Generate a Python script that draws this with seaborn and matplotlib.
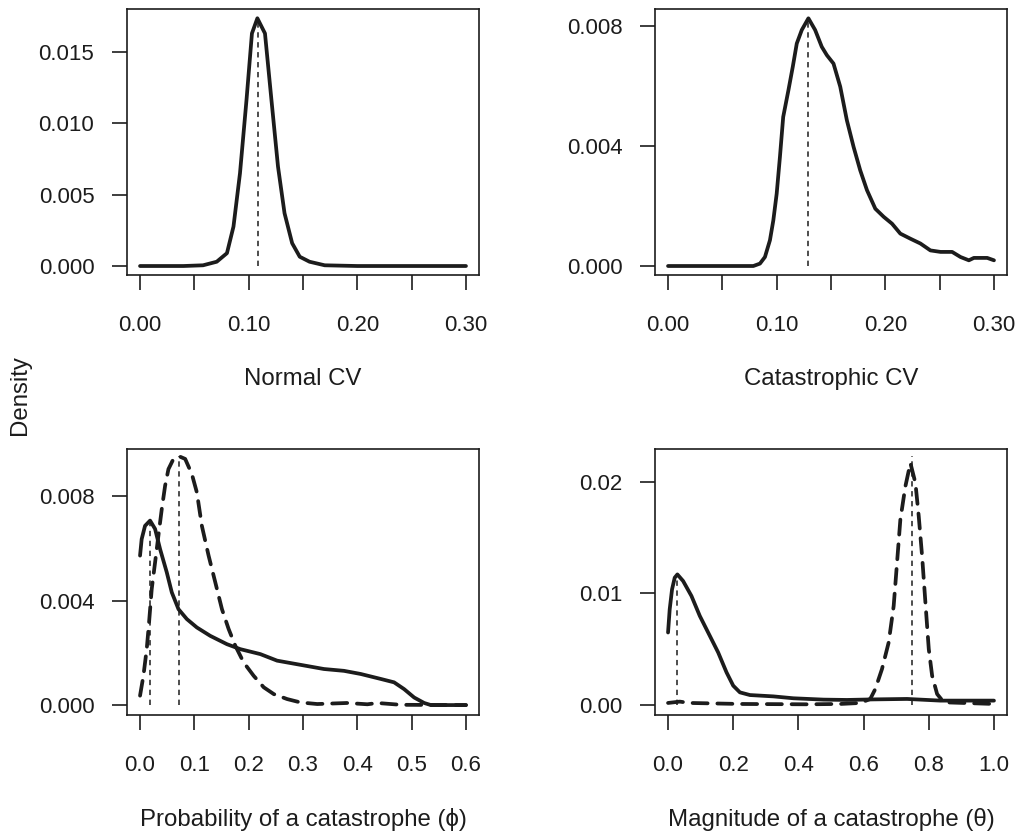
import matplotlib
matplotlib.use("Agg")
import matplotlib.pyplot as plt
import seaborn as sns
import pandas as pd

# ---------------- data ----------------
normal_cv_x = [0.000, 0.040, 0.058, 0.0706, 0.080, 0.086, 0.092, 0.098, 0.103, 0.108,
               0.115, 0.121, 0.127, 0.133, 0.140, 0.147, 0.156, 0.170, 0.200, 0.300]
normal_cv_y = [0, 0, 0.00005, 0.0003, 0.0009, 0.00276, 0.0065, 0.01164, 0.0163, 0.01736,
               0.0163, 0.0116, 0.00696, 0.0037, 0.0016, 0.00065, 0.0003, 0.00005, 0, 0]
normal_cv_mode = 0.1083

cat_cv_x = [0.000, 0.0785, 0.0846, 0.0892, 0.0938, 0.0969, 0.100, 0.103, 0.106, 0.1108,
            0.1148, 0.1185, 0.1231, 0.1292, 0.1354, 0.1415, 0.1462, 0.1523, 0.1585, 0.1646,
            0.1708, 0.1769, 0.1831, 0.1908, 0.1985, 0.2062, 0.2138, 0.2231, 0.2323, 0.2415,
            0.2508, 0.2615, 0.2692, 0.2769, 0.2815, 0.2938, 0.300]
cat_cv_y = [0, 0, 0.00008, 0.0003, 0.00086, 0.00152, 0.00241, 0.00364, 0.00497, 0.00586,
            0.00664, 0.00742, 0.00787, 0.00826, 0.00787, 0.00731, 0.00703, 0.00675, 0.00598, 0.00486,
            0.00397, 0.00319, 0.00253, 0.00191, 0.00164, 0.00141, 0.00108, 0.00091, 0.00075, 0.00052,
            0.00047, 0.00047, 0.0003, 0.00019, 0.00027, 0.00027, 0.00019]
cat_cv_mode = 0.1292

phi_solid_x = [0.000, 0.003, 0.0092, 0.0185, 0.0277, 0.0369, 0.0492, 0.0585, 0.0708, 0.0862,
               0.1046, 0.1292, 0.160, 0.1846, 0.2215, 0.2523, 0.2954, 0.3385, 0.3754, 0.4062,
               0.4431, 0.4677, 0.4862, 0.5046, 0.5231, 0.5354, 0.600]
phi_solid_y = [0.00572, 0.00635, 0.00686, 0.00706, 0.00674, 0.00597, 0.00508, 0.00431, 0.00367, 0.00329,
               0.00297, 0.00265, 0.00233, 0.00214, 0.00195, 0.0017, 0.00154, 0.00138, 0.00131, 0.00119,
               0.0010, 0.00087, 0.00061, 0.00029, 0.00008, 0, 0]
phi_dash_x = [0.000, 0.0062, 0.0123, 0.0166, 0.0215, 0.0277, 0.0338, 0.040, 0.0462, 0.0523,
              0.0615, 0.072, 0.0831, 0.0954, 0.1046, 0.1138, 0.1262, 0.1385, 0.1508, 0.1631,
              0.1754, 0.1908, 0.2092, 0.2277, 0.2462, 0.2708, 0.2954, 0.3262, 0.3815, 0.4185,
              0.4369, 0.480, 0.600]
phi_dash_y = [0.00036, 0.00112, 0.00214, 0.00316, 0.00444, 0.00546, 0.00648, 0.0075, 0.0084, 0.00903,
              0.00942, 0.00952, 0.00942, 0.00884, 0.00814, 0.00686, 0.00572, 0.0047, 0.00367, 0.00291,
              0.00227, 0.00163, 0.00112, 0.00068, 0.00042, 0.00023, 0.0001, 0.00004, 0.00008, 0.00003,
              0.00008, 0.00001, 0]
phi_modes = [0.0185, 0.072]
phi_mode_heights = [0.00706, 0.00952]

theta_solid_x = [0.000, 0.0051, 0.0123, 0.0205, 0.0287, 0.0462, 0.0718, 0.0974, 0.1282, 0.1538,
                 0.1795, 0.200, 0.2205, 0.2513, 0.3231, 0.3846, 0.4769, 0.5487, 0.6308, 0.7333,
                 0.8359, 1.000]
theta_solid_y = [0.0065, 0.00858, 0.01037, 0.01142, 0.01171, 0.01112, 0.00978, 0.00799, 0.0062, 0.00471,
                 0.00292, 0.00173, 0.00113, 0.00089, 0.00077, 0.0006, 0.00048, 0.00045, 0.0005, 0.00054,
                 0.00039, 0.00039]
theta_dash_x = [0.000, 0.0359, 0.0667, 0.2205, 0.4256, 0.5282, 0.5897, 0.6205, 0.6359, 0.6564,
                0.6769, 0.6923, 0.7026, 0.7128, 0.7282, 0.7436, 0.759, 0.7692, 0.7795, 0.7897,
                0.800, 0.8103, 0.8256, 0.8462, 1.000]
theta_dash_y = [0.00018, 0.0003, 0.00018, 0.00009, 0.00006, 0.00009, 0.00018, 0.00054, 0.00143, 0.00322,
                0.0056, 0.00888, 0.01276, 0.01663, 0.01961, 0.0217, 0.01991, 0.01693, 0.01335, 0.00918,
                0.00501, 0.00262, 0.00098, 0.00024, 0.00009]
theta_modes = [0.0287, 0.7487]
theta_mode_heights = [0.01171, 0.02235]

xlabels = ["Normal CV", "Catastrophic CV",
           "Probability of a catastrophe (\u03d5)", "Magnitude of a catastrophe (\u03b8)"]

# ---------------- style ----------------
sns.set_theme(style="ticks")
plt.rcParams['font.family'] = ['Liberation Sans', 'DejaVu Sans']
INK = "#1c1c1c"
FS_TICK = 16
FS_LAB = 17.3

fig = plt.figure(figsize=(10.17, 8.32), dpi=100)
W, H = 1017, 832
def pos(l, t, r, b):
    return [l / W, 1 - b / H, (r - l) / W, (b - t) / H]

ax1 = fig.add_axes(pos(127, 9, 479, 275))
ax2 = fig.add_axes(pos(655, 9, 1007, 275))
ax3 = fig.add_axes(pos(127, 449, 479, 715))
ax4 = fig.add_axes(pos(655, 449, 1007, 715))

solid_kw = dict(color=INK, linewidth=2.7, estimator=None, sort=False,
                solid_capstyle="round", solid_joinstyle="round")
dash_kw = dict(color=INK, linewidth=2.7, estimator=None, sort=False,
               dash_capstyle="round")
DASHES = (4.0, 2.6)
mode_kw = dict(colors=INK, linewidth=1.1, linestyles=(0, (3.5, 3)))

def draw(ax, x, y, dashed=False):
    df = pd.DataFrame({"x": x, "y": y})
    if dashed:
        sns.lineplot(data=df, x="x", y="y", ax=ax, **dash_kw)
        ax.lines[-1].set_dashes(DASHES)
    else:
        sns.lineplot(data=df, x="x", y="y", ax=ax, **solid_kw)

draw(ax1, normal_cv_x, normal_cv_y)
ax1.vlines([normal_cv_mode], 0, [max(normal_cv_y)], **mode_kw)

draw(ax2, cat_cv_x, cat_cv_y)
ax2.vlines([cat_cv_mode], 0, [max(cat_cv_y)], **mode_kw)

draw(ax3, phi_solid_x, phi_solid_y)
draw(ax3, phi_dash_x, phi_dash_y, dashed=True)
ax3.vlines(phi_modes, 0, phi_mode_heights, **mode_kw)

draw(ax4, theta_solid_x, theta_solid_y)
draw(ax4, theta_dash_x, theta_dash_y, dashed=True)
ax4.vlines(theta_modes, 0, theta_mode_heights, **mode_kw)

# limits / ticks
ax1.set_xlim(-0.012, 0.312); ax1.set_ylim(-0.00063, 0.01801)
ax2.set_xlim(-0.012, 0.312); ax2.set_ylim(-0.0003, 0.00857)
ax3.set_xlim(-0.024, 0.624); ax3.set_ylim(-0.00038, 0.0098)
ax4.set_xlim(-0.04, 1.04);   ax4.set_ylim(-0.0009, 0.02296)

cv_ticks = [0.0, 0.05, 0.10, 0.15, 0.20, 0.25, 0.30]
cv_labels = ["0.00", "", "0.10", "", "0.20", "", "0.30"]
for ax in (ax1, ax2):
    ax.set_xticks(cv_ticks)
    ax.set_xticklabels(cv_labels)
ax1.set_yticks([0, 0.005, 0.010, 0.015])
ax1.set_yticklabels(["0.000", "0.005", "0.010", "0.015"])
ax2.set_yticks([0, 0.004, 0.008])
ax2.set_yticklabels(["0.000", "0.004", "0.008"])
ax3.set_xticks([0, 0.1, 0.2, 0.3, 0.4, 0.5, 0.6])
ax3.set_xticklabels(["0.0", "0.1", "0.2", "0.3", "0.4", "0.5", "0.6"])
ax3.set_yticks([0, 0.004, 0.008])
ax3.set_yticklabels(["0.000", "0.004", "0.008"])
ax4.set_xticks([0, 0.2, 0.4, 0.6, 0.8, 1.0])
ax4.set_xticklabels(["0.0", "0.2", "0.4", "0.6", "0.8", "1.0"])
ax4.set_yticks([0, 0.01, 0.02])
ax4.set_yticklabels(["0.00", "0.01", "0.02"])

for ax, lab in zip((ax1, ax2, ax3, ax4), xlabels):
    ax.set_facecolor("white")
    for s in ax.spines.values():
        s.set_visible(True)
        s.set_color(INK)
        s.set_linewidth(1.2)
    ax.tick_params(axis="both", which="major", direction="out", length=10.5,
                   width=1.2, color=INK, labelsize=FS_TICK, labelcolor=INK)
    ax.tick_params(axis="x", pad=18.5)
    ax.tick_params(axis="y", pad=13)
    ax.set_xlabel(lab, fontsize=FS_LAB, color=INK, labelpad=23)
    ax.set_ylabel("")
    ax.grid(False)

fig.text(20 / W, 1 - 395 / H, "Density", rotation=90, ha="center", va="center",
         fontsize=FS_LAB, color=INK)

fig.savefig("out.png", dpi=100, facecolor="white")
